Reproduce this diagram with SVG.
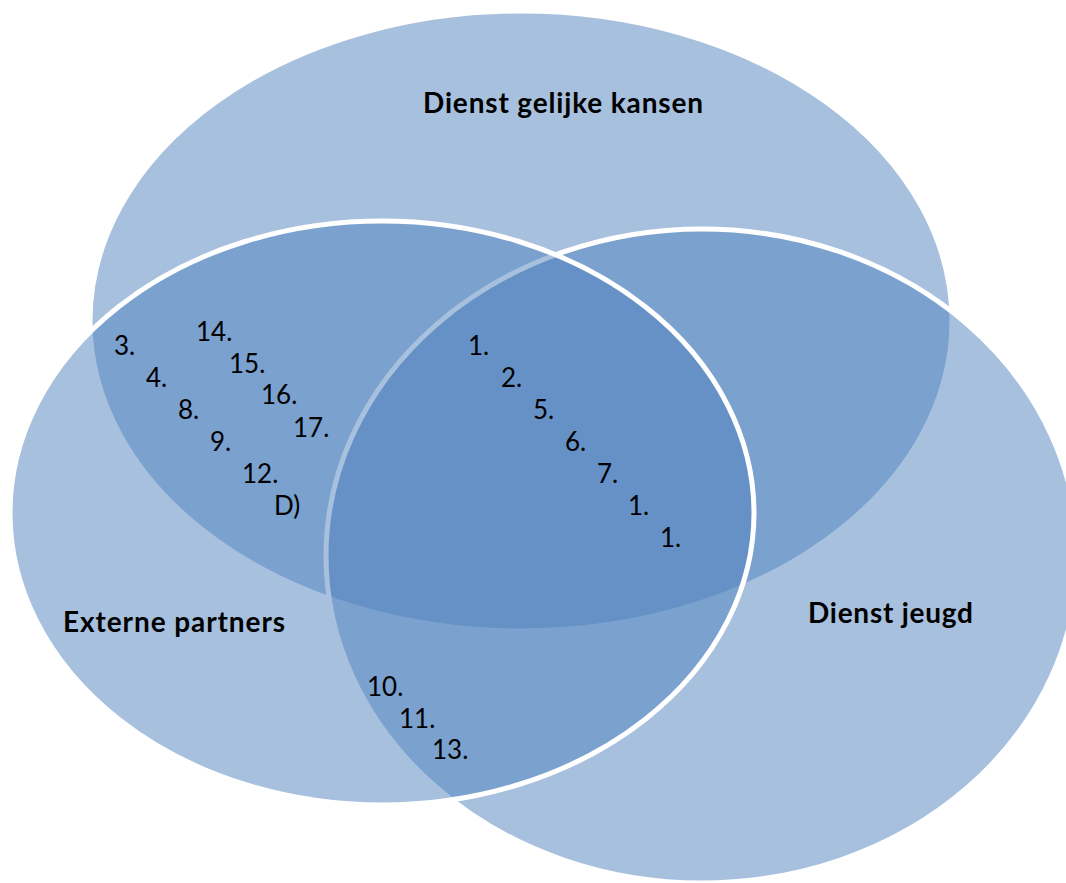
<svg xmlns="http://www.w3.org/2000/svg" width="1066" height="883" viewBox="0 0 1066 883">
<style>
.set{fill:#4F81BD;fill-opacity:0.5;stroke:#FFFFFF;stroke-width:5}
.lbl{font-family:Lato,"Liberation Sans",sans-serif;font-weight:bold;font-size:28px;fill:#000}
.num{font-family:Lato,"Liberation Sans",sans-serif;font-size:26px;fill:#000}
</style>
<rect x="0" y="0" width="1066" height="883" fill="#FFFFFF"/>
<g id="dienst-gelijke-kansen">
<ellipse class="set" cx="521" cy="321" rx="431" ry="310"/>
<text class="lbl" x="423" y="113" textLength="280" lengthAdjust="spacing">Dienst gelijke kansen</text>
</g>
<g id="dienst-jeugd">
<ellipse class="set" cx="702" cy="556" rx="376" ry="327"/>
<text class="lbl" x="808" y="623" textLength="165" lengthAdjust="spacing">Dienst jeugd</text>
</g>
<g id="externe-partners">
<ellipse class="set" cx="382" cy="513" rx="372" ry="292"/>
<text class="lbl" x="63" y="632" textLength="222" lengthAdjust="spacing">Externe partners</text>
</g>
<g id="connectors"></g>
<g id="items-gelijke-kansen-externe">
<text class="num" x="114" y="355">3.</text>
<text class="num" x="146" y="387">4.</text>
<text class="num" x="178" y="419">8.</text>
<text class="num" x="210" y="451">9.</text>
<text class="num" x="242" y="483">12.</text>
<text class="num" x="274" y="515">D)</text>
<text class="num" x="196" y="341">14.</text>
<text class="num" x="229" y="373">15.</text>
<text class="num" x="261" y="404">16.</text>
<text class="num" x="293" y="437">17.</text>
</g>
<g id="items-alle-drie">
<text class="num" x="468" y="355">1.</text>
<text class="num" x="501" y="387">2.</text>
<text class="num" x="533" y="419">5.</text>
<text class="num" x="565" y="451">6.</text>
<text class="num" x="597" y="483">7.</text>
<text class="num" x="628" y="515">1.</text>
<text class="num" x="660" y="547">1.</text>
</g>
<g id="items-jeugd-externe">
<text class="num" x="367" y="696">10.</text>
<text class="num" x="399" y="728">11.</text>
<text class="num" x="432" y="759">13.</text>
</g>
</svg>
